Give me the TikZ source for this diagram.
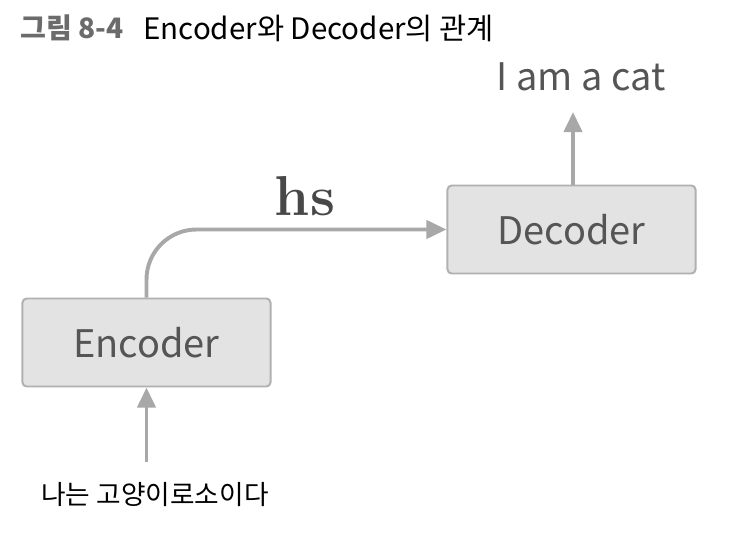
\documentclass[tikz,border=0pt]{standalone}
\usepackage{fontspec}
\usepackage{xcolor}
\usetikzlibrary{arrows.meta}
\setmainfont{Noto Sans CJK KR}
\newfontfamily\hsfont{Latin Modern Roman}
\definecolor{boxfill}{HTML}{E3E3E3}
\definecolor{boxline}{HTML}{B0B0B0}
\definecolor{arrowgray}{HTML}{A8A8A8}
\definecolor{textgray}{HTML}{555555}
\definecolor{titlegray}{HTML}{6B6B6B}

\begin{document}
\begin{tikzpicture}[x=0.025cm,y=-0.025cm,
	block/.style={draw=boxline,fill=boxfill,line width=1.4pt,rounded corners=3pt,
		minimum width=6.2cm,minimum height=2.2cm,text=textgray,
		font=\fontsize{27}{30}\selectfont},
	flow/.style={draw=arrowgray,line width=2.8pt,-{Triangle[length=0.5cm,width=0.45cm]}},
	word/.style={text=textgray,font=\fontsize{27}{30}\selectfont}]
	\useasboundingbox (0,0) rectangle (742,536);
	% title
	\node[anchor=west,inner sep=0pt,text=titlegray,font=\fontsize{20}{24}\selectfont\bfseries] (fig) at (20,28) {그림 8-4};
	\node[anchor=west,inner sep=0pt,font=\fontsize{21}{24}\selectfont] (cap) at (143,28) {Encoder와 Decoder의 관계};
	% boxes
	\node[block] (enc) at (146.5,342.5) {Encoder};
	\node[block] (dec) at (571.5,229.5) {Decoder};
	% texts
	\node[word,font=\fontsize{19}{22}\selectfont,text=black] (src) at (155,495) {나는 고양이로소이다};
	\node[word] (tgt) at (581,77) {I am a cat};
	\node[text=textgray!85!black,font=\fontsize{40}{44}\selectfont\hsfont\bfseries] (hs) at (305,196) {hs};
	% connectors
	\coordinate (in) at (146.5,462);
	\coordinate (out) at (573,112);
	\draw[flow] (in) -- (enc.south);
	\draw[flow] (enc.north) [rounded corners=1.25cm] |- (dec.west);
	\draw[flow] (dec.north -| out) -- (out);
\end{tikzpicture}
\end{document}
